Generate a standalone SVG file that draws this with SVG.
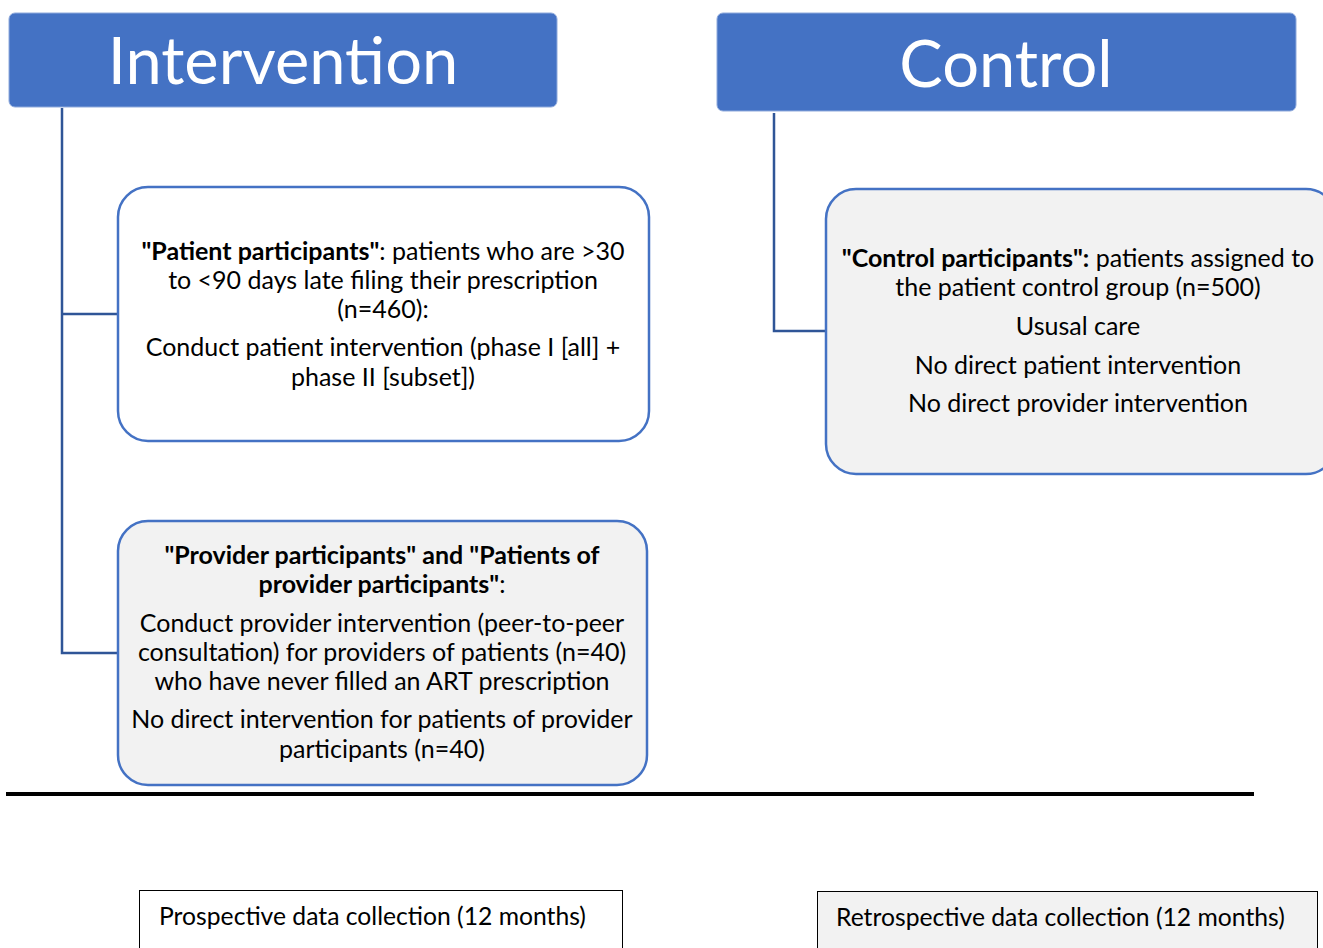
<svg xmlns="http://www.w3.org/2000/svg" width="1323" height="948" viewBox="0 0 1323 948">
<style>
.hdr{fill:#4472C4;stroke:#8FAADC;stroke-width:1}
.htxt{font-family:Lato,"Liberation Sans",sans-serif;font-size:65px;fill:#fff;text-anchor:middle}
.box{stroke:#4472C4;stroke-width:2.5}
.t{font-family:Lato,"Liberation Sans",sans-serif;font-size:25px;fill:#000;text-anchor:middle}
.b{font-weight:bold}
.conn{fill:none;stroke:#2F5597;stroke-width:2.5}
.dc{font-family:Lato,"Liberation Sans",sans-serif;font-size:24.7px;fill:#000}
</style>
<rect width="1323" height="948" fill="#fff"/>
<g id="connectors">
<path class="conn" d="M62 108 V653 H118 M62 314 H118"/>
<path class="conn" d="M774 113 V331 H826"/>
</g>
<g id="intervention">
<rect class="hdr" x="9" y="13" width="548" height="94" rx="6"/>
<text class="htxt" x="283" y="84">Intervention</text>
</g>
<g id="control">
<rect class="hdr" x="717" y="13" width="579" height="98" rx="6"/>
<text class="htxt" x="1006" y="87">Control</text>
</g>
<g id="patient">
<rect class="box" x="118" y="187" width="531" height="254" rx="30" fill="#fff"/>
<text class="t" x="383" y="260"><tspan class="b">"Patient participants"</tspan>: patients who are &gt;30</text>
<text class="t" x="383" y="289">to &lt;90 days late filing their prescription</text>
<text class="t" x="383" y="318">(n=460):</text>
<text class="t" x="383" y="356">Conduct patient intervention (phase I [all] +</text>
<text class="t" x="383" y="386">phase II [subset])</text>
</g>
<g id="control-participants">
<rect class="box" x="826" y="189" width="510" height="285" rx="30" fill="#F2F2F2"/>
<text class="t" x="1078" y="267"><tspan class="b">"Control participants":</tspan> patients assigned to</text>
<text class="t" x="1078" y="296">the patient control group (n=500)</text>
<text class="t" x="1078" y="335">Ususal care</text>
<text class="t" x="1078" y="374">No direct patient intervention</text>
<text class="t" x="1078" y="412">No direct provider intervention</text>
</g>
<g id="provider">
<rect class="box" x="118" y="521" width="529" height="264" rx="30" fill="#F2F2F2"/>
<text class="t b" x="382" y="564">"Provider participants" and "Patients of</text>
<text class="t" x="382" y="593"><tspan class="b">provider participants"</tspan>:</text>
<text class="t" x="382" y="632">Conduct provider intervention (peer-to-peer</text>
<text class="t" x="382" y="661">consultation) for providers of patients (n=40)</text>
<text class="t" x="382" y="690">who have never filled an ART prescription</text>
<text class="t" x="382" y="728">No direct intervention for patients of provider</text>
<text class="t" x="382" y="758">participants (n=40)</text>
</g>
<line x1="6" y1="794" x2="1254" y2="794" stroke="#000" stroke-width="4"/>
<g id="prospective">
<rect x="139.5" y="890.5" width="483" height="70" fill="#fff" stroke="#000" stroke-width="1"/>
<text class="dc" x="159" y="925">Prospective data collection (12 months)</text>
</g>
<g id="retrospective">
<rect x="817.5" y="891.5" width="500" height="70" fill="#F2F2F2" stroke="#000" stroke-width="1"/>
<text class="dc" x="836" y="926">Retrospective data collection (12 months)</text>
</g>
</svg>
